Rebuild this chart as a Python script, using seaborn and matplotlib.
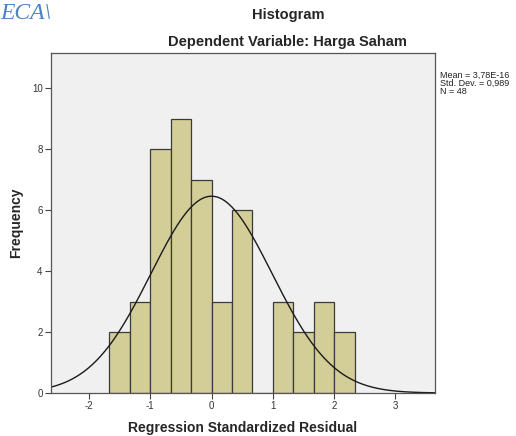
import numpy as np
import matplotlib.pyplot as plt
import seaborn as sns

# Histogram of regression standardized residuals (SPSS style)
bin_edges = [-5/3, -4/3, -1, -2/3, -1/3, 0, 1/3, 2/3, 1, 4/3, 5/3, 2, 7/3]
counts = [2, 3, 8, 9, 7, 3, 6, 0, 3, 2, 3, 2]
mean_val = 3.78e-16
std_dev = 0.989
n_obs = 48
legend_lines = ["Mean = 3,78E-16", "Std. Dev. = 0,989", "N = 48"]

centers = [(a + b) / 2 for a, b in zip(bin_edges[:-1], bin_edges[1:])]

sns.set_style("white")
plt.rcParams["font.family"] = ["Liberation Sans", "DejaVu Sans"]
plt.rcParams["axes.unicode_minus"] = False

fig = plt.figure(figsize=(5.16, 4.36), dpi=100)
ax = fig.add_axes([0.0988, 0.0986, 0.7434, 0.7798])
ax.set_facecolor("#F0F0F0")

sns.histplot(x=centers, weights=counts, bins=bin_edges, ax=ax,
             color="#D3CE97", edgecolor="#3a3a3a", linewidth=0.9, alpha=1)

# fitted normal curve
width = bin_edges[1] - bin_edges[0]
xs = np.linspace(-2.7, 3.7, 400)
ys = n_obs * width * np.exp(-0.5 * ((xs - mean_val) / std_dev) ** 2) / (std_dev * np.sqrt(2 * np.pi))
ax.plot(xs, ys, color="#1a1a1a", linewidth=1.0)

ax.set_xlim(-2.62, 3.64)
ax.set_ylim(0, 11.15)
ax.set_xticks([-2, -1, 0, 1, 2, 3])
ax.set_yticks([0, 2, 4, 6, 8, 10])
ax.tick_params(axis="both", direction="out", length=4, width=0.8, color="#444444",
               labelsize=7, labelcolor="#333333", bottom=True, left=True, pad=2)
for s in ax.spines.values():
    s.set_color("#555555")
    s.set_linewidth(0.9)

ax.set_xlabel("Regression Standardized Residual", fontsize=10, fontweight="bold", labelpad=7)
ax.set_ylabel("Frequency", fontsize=10, fontweight="bold", labelpad=6)

fig.text(0.558, 0.966, "Histogram", ha="center", va="center", fontsize=10.5, fontweight="bold")
fig.text(0.558, 0.904, "Dependent Variable: Harga Saham", ha="center", va="center",
         fontsize=10.5, fontweight="bold")

for i, line in enumerate(legend_lines):
    fig.text(0.853, 0.828 - i * 0.0185, line, ha="left", va="center",
             fontsize=6.5, color="#222222")

# cropped watermark fragment at top left
fig.text(0.0, 0.968, "ECA\\", ha="left", va="center", fontsize=17,
         color="#4F7FC8", family="Liberation Serif", style="italic")

fig.savefig("out.png", dpi=100, facecolor="white")
